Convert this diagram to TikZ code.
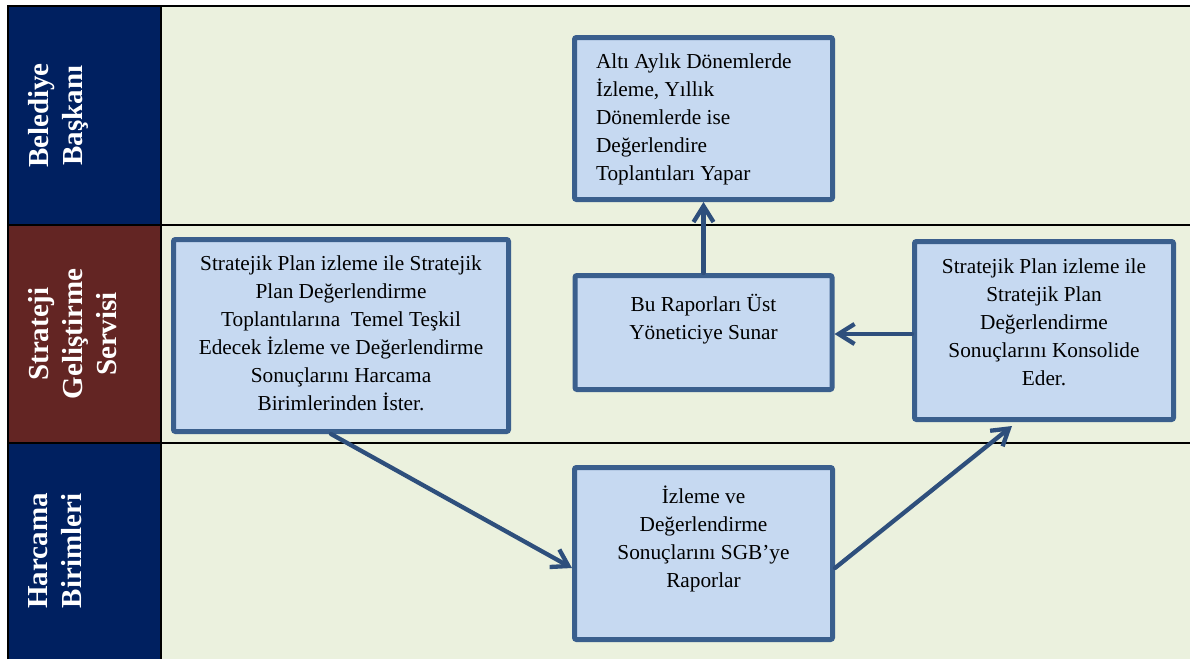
\documentclass[tikz,border=0pt]{standalone}
\usepackage{fontspec}
\setmainfont{Liberation Serif}
\usetikzlibrary{arrows.meta,calc}
\definecolor{bg}{HTML}{EBF1DE}
\definecolor{navy}{HTML}{002060}
\definecolor{maroon}{HTML}{632523}
\definecolor{boxfill}{HTML}{C6D9F1}
\definecolor{boxline}{HTML}{3A5F8D}
\definecolor{arrowc}{HTML}{2E4F7C}
\newcommand{\bxtxt}[5]{\parbox[c][#2][t]{#1}{\vspace*{#3}\fontsize{21.3}{28}\selectfont #4\rule{0pt}{19pt}#5}}
\begin{document}
\begin{tikzpicture}[x=1pt,y=-1pt,
  procbox/.style={draw=boxline, line width=5pt, fill=boxfill, rounded corners=2pt, inner sep=0pt},
  flow/.style={draw=arrowc, line width=4.3pt, line cap=round, -{Straight Barb[length=16pt,width=20pt]}},
  lanelabel/.style={text=white, font=\fontsize{29}{34}\selectfont\bfseries, align=center, rotate=90, anchor=north, inner sep=0pt},
  tableline/.style={line width=2pt, draw=black}
]
\useasboundingbox (0,0) rectangle (1190,659);
\fill[white] (0,0) rectangle (1190,659);
\fill[bg] (161,6) rectangle (1190,659);
\fill[navy] (7,6) rectangle (161,225);
\fill[maroon] (7,225) rectangle (161,442.5);
\fill[navy] (7,442.5) rectangle (161,659);
\draw[tableline] (7.7,659) -- (7.7,6) -- (1190,6);
\draw[tableline] (160.7,6) -- (160.7,659);
\draw[tableline] (7,225) -- (1190,225);
\draw[tableline] (7,442.5) -- (1190,442.5);

\node[lanelabel] (lane1) at (28,115.5) {Belediye\\Başkanı};
\node[lanelabel] (lane2) at (28,334) {Strateji\\Geliştirme\\Servisi};
\node[lanelabel] (lane3) at (28,551) {Harcama\\Birimleri};

\node[procbox] (top) at (703.5,118.5) {\bxtxt{258pt}{162pt}{11.5pt}{\raggedright\leftskip=21.5pt}{Altı Aylık Dönemlerde\\İzleme, Yıllık\\Dönemlerde ise\\Değerlendire\\Toplantıları Yapar}};
\node[procbox] (mid) at (703.5,332.5) {\bxtxt{257pt}{114pt}{17pt}{\centering}{Bu Raporları Üst\\Yöneticiye Sunar}};
\node[procbox] (left) at (341,335.5) {\bxtxt{335pt}{192pt}{12pt}{\centering}{Stratejik Plan izleme ile Stratejik\\Plan Değerlendirme\\Toplantılarına\ \ Temel Teşkil\\Edecek İzleme ve Değerlendirme\\Sonuçlarını Harcama\\Birimlerinden İster.}};
\node[procbox] (right) at (1044,330.5) {\bxtxt{259pt}{178pt}{12.5pt}{\centering}{Stratejik Plan izleme ile\\Stratejik Plan\\Değerlendirme\\Sonuçlarını Konsolide\\Eder.}};
\node[procbox] (bot) at (703.5,553.5) {\bxtxt{258pt}{172pt}{17pt}{\centering}{İzleme ve\\Değerlendirme\\Sonuçlarını SGB’ye\\Raporlar}};

\draw[flow] (mid.north) -- (top.south);
\draw[flow] ([yshift=-1.5pt]right.west |- mid.east) -- ([yshift=-1.5pt]mid.east);
\draw[flow] ([xshift=-10pt]left.south) -- ([yshift=-14.5pt]bot.west);
\draw[flow] ([yshift=-14.5pt]bot.east) -- ([xshift=-32pt,yshift=-4pt]right.south);
\end{tikzpicture}
\end{document}
